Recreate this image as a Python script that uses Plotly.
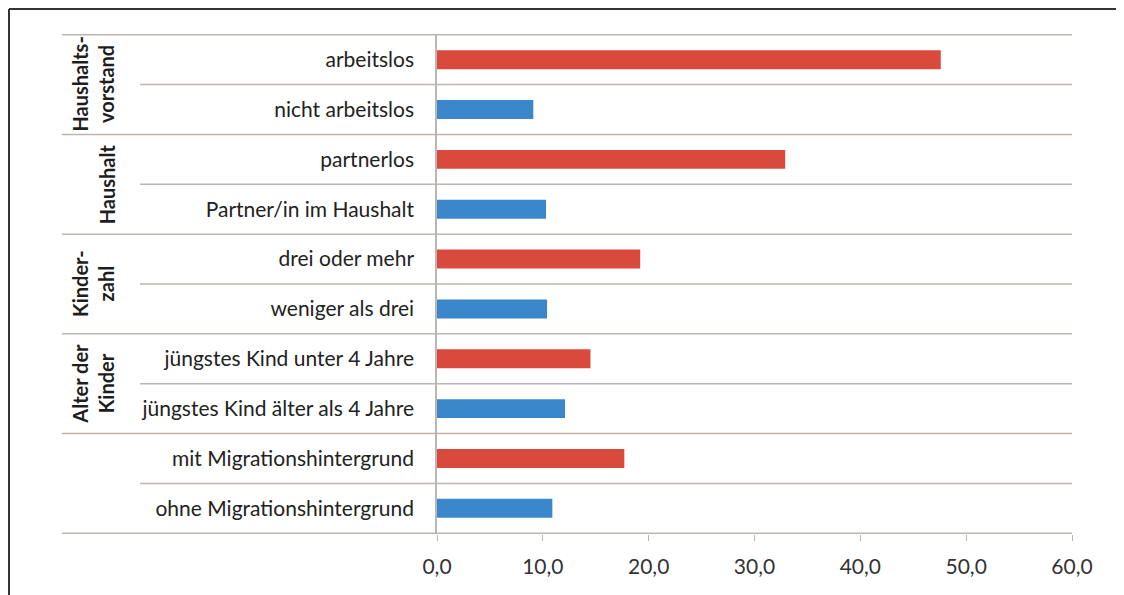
import plotly.graph_objects as go

# Werte (Prozent), von oben nach unten
kategorien = ["arbeitslos", "nicht arbeitslos", "partnerlos", "Partner/in im Haushalt",
              "drei oder mehr", "weniger als drei", "jüngstes Kind unter 4 Jahre",
              "jüngstes Kind älter als 4 Jahre", "mit Migrationshintergrund",
              "ohne Migrationshintergrund"]
werte = [47.6, 9.1, 32.9, 10.3, 19.2, 10.4, 14.5, 12.1, 17.7, 10.9]
farben = ["#d94a3d", "#3a87cc"] * 5

gruppen = ["Haushalts-<br>vorstand", "Haushalt", "Kinder-<br>zahl", "Alter der<br>Kinder"]
x_ticks = [0, 10, 20, 30, 40, 50, 60]

# Seite hat 8px Rand, also Figur etwas kleiner
OFF = 8
W, H = 1124 - OFF, 595 - OFF
L, T = 437 - OFF, 34 - OFF
R = W - (1072 - OFF)
B = H - (534 - OFF)
pw = W - L - R
ph = H - T - B

def px_x(p):
    return (p - OFF - L) / pw

def px_y(p):
    return 1 - (p - OFF - T) / ph

fig = go.Figure()
fig.add_trace(go.Bar(
    y=kategorien, x=werte, orientation="h",
    marker=dict(color=farben, line_width=0),
    width=0.38, hoverinfo="x+y"
))

linie = "#bdb5b1"
shapes = []
# volle Trennlinien zwischen den Gruppen
for yy in [-0.5, 1.5, 3.5, 5.5, 7.5, 9.5]:
    shapes.append(dict(type="line", xref="paper", yref="y", x0=px_x(62), x1=1,
                       y0=yy, y1=yy, line=dict(color=linie, width=1.5)))
# kurze Linien innerhalb der Gruppen
for yy in [0.5, 2.5, 4.5, 6.5, 8.5]:
    shapes.append(dict(type="line", xref="paper", yref="y", x0=px_x(140), x1=1,
                       y0=yy, y1=yy, line=dict(color=linie, width=1.5)))
# Rahmen oben und links
shapes.append(dict(type="line", xref="paper", yref="paper", x0=px_x(9), x1=1.2,
                   y0=px_y(9), y1=px_y(9), line=dict(color="#333333", width=2)))
shapes.append(dict(type="line", xref="paper", yref="paper", x0=px_x(9), x1=px_x(9),
                   y0=px_y(9), y1=-0.3, line=dict(color="#333333", width=2)))

annotations = []
gx = [px_x(93), px_x(107), px_x(93), px_x(93)]
for i, g in enumerate(gruppen):
    annotations.append(dict(text=g, xref="paper", yref="y", x=gx[i], y=2 * i + 0.5,
                            textangle=-90, showarrow=False, xanchor="center",
                            yanchor="middle",
                            font=dict(family="Lato", size=20, weight=700,
                                      color="#1e1e1e")))

fig.update_layout(
    width=W, height=H,
    margin=dict(l=L, r=R, t=T, b=B),
    plot_bgcolor="white", paper_bgcolor="white",
    separators=",.",
    showlegend=False,
    shapes=shapes,
    annotations=annotations,
    font=dict(family="Lato", size=21, color="#222222"),
)
fig.update_xaxes(range=[0, 60], tickvals=x_ticks, tickformat=".1f",
                 showgrid=False, zeroline=False, showline=False,
                 ticks="outside", ticklen=6, tickcolor=linie,
                 ticklabelstandoff=8,
                 tickfont=dict(family="Lato", size=21, color="#333333"))
fig.update_yaxes(autorange="reversed", showgrid=False, zeroline=False,
                 showline=True, linecolor=linie, linewidth=1.5,
                 ticks="", ticklabelstandoff=17,
                 tickfont=dict(family="Lato", size=21, color="#222222"))

fig.write_html("out.html")
